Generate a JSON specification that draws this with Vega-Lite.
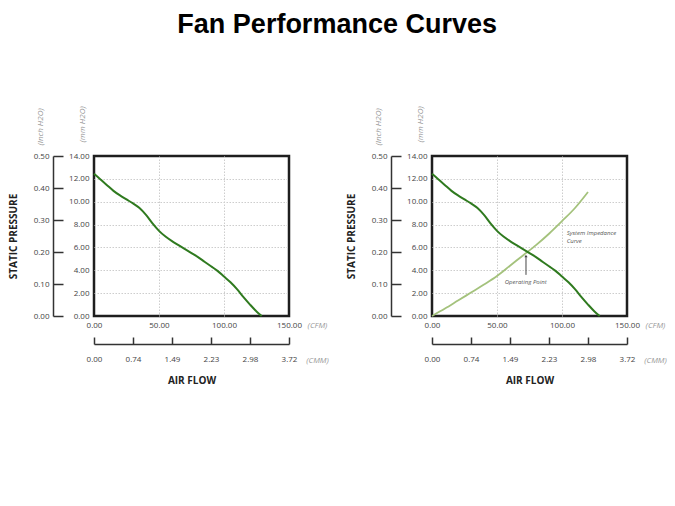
{
  "$schema": "https://vega.github.io/schema/vega-lite/v6.json",
  "padding": {"left": 6, "top": 10, "right": 5, "bottom": 5},
  "title": {"text": "Fan Performance Curves", "font": "Liberation Sans", "fontSize": 27, "fontWeight": "bold", "color": "#000", "anchor": "middle", "offset": 66},
  "config": {
    "font": "Open Sans",
    "view": {"stroke": "#1e1e1e", "strokeWidth": 2.5},
    "axis": {"labelFont": "Open Sans", "titleFont": "Open Sans", "labelFontSize": 8, "labelColor": "#444", "labelFlush": false, "labelOverlap": false}
  },
  "datasets": {
    "fan": [
      {"cfm": 0, "mm": 12.45}, {"cfm": 5, "mm": 11.95}, {"cfm": 10, "mm": 11.45}, {"cfm": 15, "mm": 10.95},
      {"cfm": 20, "mm": 10.55}, {"cfm": 25, "mm": 10.2}, {"cfm": 30, "mm": 9.85}, {"cfm": 35, "mm": 9.45},
      {"cfm": 40, "mm": 8.85}, {"cfm": 45, "mm": 8.1}, {"cfm": 50, "mm": 7.45}, {"cfm": 55, "mm": 6.95},
      {"cfm": 60, "mm": 6.55}, {"cfm": 65, "mm": 6.2}, {"cfm": 70, "mm": 5.85}, {"cfm": 75, "mm": 5.5},
      {"cfm": 80, "mm": 5.15}, {"cfm": 85, "mm": 4.75}, {"cfm": 90, "mm": 4.35}, {"cfm": 95, "mm": 3.95},
      {"cfm": 100, "mm": 3.45}, {"cfm": 105, "mm": 2.95}, {"cfm": 110, "mm": 2.35}, {"cfm": 115, "mm": 1.65},
      {"cfm": 120, "mm": 1.0}, {"cfm": 125, "mm": 0.4}, {"cfm": 129, "mm": 0}
    ],
    "imp": [
      {"cfm": 0, "mm": 0}, {"cfm": 10, "mm": 0.65}, {"cfm": 20, "mm": 1.35}, {"cfm": 30, "mm": 2.05},
      {"cfm": 40, "mm": 2.75}, {"cfm": 50, "mm": 3.5}, {"cfm": 60, "mm": 4.4}, {"cfm": 70, "mm": 5.3},
      {"cfm": 80, "mm": 6.2}, {"cfm": 90, "mm": 7.2}, {"cfm": 100, "mm": 8.3}, {"cfm": 110, "mm": 9.45},
      {"cfm": 120, "mm": 10.85}
    ],
    "notesLeft": [
      {"cfm": 103.6, "mm": 7.23, "label": "System Impedance"},
      {"cfm": 103.6, "mm": 6.59, "label": "Curve"}
    ],
    "notesCenter": [
      {"cfm": 72.1, "mm": 3.0, "label": "Operating Point"}
    ],
    "arrow": [{"cfm": 72.3, "mm": 3.6, "mm2": 5.25}],
    "axes": [{"cmm": 0, "inch": 0}, {"cmm": 3.72, "inch": 0.5}]
  },
  "spacing": 14,
  "hconcat": [
    {
      "width": 195, "height": 160,
      "resolve": {"scale": {"x": "independent", "y": "independent"}, "axis": {"x": "independent", "y": "independent"}},
      "layer": [
        {
          "encoding": {
            "x": {"field": "cfm", "type": "quantitative", "scale": {"domain": [0, 150], "nice": false, "zero": false},
              "axis": {"orient": "bottom", "values": [0, 50, 100, 150], "format": ".2f", "ticks": false, "domain": false, "grid": true, "gridColor": "#cdcdcd", "gridDash": [1.5, 1.5], "gridOpacity": {"condition": {"test": "datum.value === 0 || datum.value === 150", "value": 0}, "value": 1}, "labelPadding": 5,
                "title": "(CFM)", "titleX": 223, "titleY": 9, "titleAlign": "center", "titleBaseline": "middle", "titleFontStyle": "italic", "titleFontWeight": "normal", "titleColor": "#999", "titleFontSize": 8}},
            "y": {"field": "mm", "type": "quantitative", "scale": {"domain": [0, 14], "nice": false, "zero": false},
              "axis": {"orient": "left", "values": [0, 2, 4, 6, 8, 10, 12, 14], "format": ".2f", "ticks": false, "domain": false, "grid": true, "gridColor": "#cdcdcd", "gridDash": [1.5, 1.5], "gridOpacity": {"condition": {"test": "datum.value === 0 || datum.value === 14", "value": 0}, "value": 1}, "labelPadding": 5,
                "title": "(mm H2O)", "titleX": -12, "titleY": -14, "titleAngle": -90, "titleAlign": "left", "titleBaseline": "middle", "titleFontStyle": "italic", "titleFontWeight": "normal", "titleColor": "#999", "titleFontSize": 8}}
          },
          "layer": [
            {"data": {"name": "fan"}, "mark": {"type": "line", "color": "#2f7a1f", "strokeWidth": 2, "interpolate": "monotone"}}
          ]
        },
        {
          "data": {"name": "axes"},
          "mark": {"type": "point", "opacity": 0},
          "encoding": {
            "x": {"field": "cmm", "type": "quantitative", "scale": {"domain": [0, 3.72], "nice": false, "zero": false},
              "axis": {"orient": "bottom", "offset": 28, "values": [0, 0.744, 1.488, 2.232, 2.976, 3.72], "format": ".2f", "grid": false, "domain": true, "domainColor": "#333", "domainWidth": 1.5, "ticks": true, "tickSize": -7, "tickColor": "#333", "tickWidth": 1.5, "labelPadding": 18,
                "title": "(CMM)", "titleX": 223, "titleY": 16, "titleAlign": "center", "titleBaseline": "middle", "titleFontStyle": "italic", "titleFontWeight": "normal", "titleColor": "#999", "titleFontSize": 8}},
            "y": {"field": "inch", "type": "quantitative", "scale": {"domain": [0, 0.5], "nice": false, "zero": false},
              "axis": {"orient": "left", "offset": 41, "values": [0, 0.1, 0.2, 0.3, 0.4, 0.5], "format": ".2f", "grid": false, "domain": true, "domainColor": "#333", "domainWidth": 1.5, "ticks": true, "tickSize": -10, "tickColor": "#333", "tickWidth": 1.5, "labelPadding": 14,
                "title": "(Inch H2O)", "titleX": -13, "titleY": -11, "titleAngle": -90, "titleAlign": "left", "titleBaseline": "middle", "titleFontStyle": "italic", "titleFontWeight": "normal", "titleColor": "#999", "titleFontSize": 8}}
          }
        },
        {
          "data": {"name": "axes"},
          "mark": {"type": "point", "opacity": 0},
          "encoding": {
            "x": {"field": "cmm", "type": "quantitative", "scale": {"domain": [0, 3.72], "nice": false, "zero": false},
              "axis": {"orient": "bottom", "domain": false, "ticks": false, "labels": false, "grid": false, "title": "AIR FLOW", "titleX": 97.5, "titleY": 64, "titleAlign": "center", "titleBaseline": "middle", "titleFontWeight": "bold", "titleFontSize": 10, "titleColor": "#222"}},
            "y": {"field": "inch", "type": "quantitative", "scale": {"domain": [0, 0.5], "nice": false, "zero": false},
              "axis": {"orient": "left", "domain": false, "ticks": false, "labels": false, "grid": false, "title": "STATIC PRESSURE", "titleX": -81, "titleY": 80, "titleAngle": -90, "titleAlign": "center", "titleBaseline": "middle", "titleFontWeight": "bold", "titleFontSize": 10, "titleColor": "#222"}}
          }
        }
      ]
    },
    {
      "width": 195, "height": 160,
      "resolve": {"scale": {"x": "independent", "y": "independent"}, "axis": {"x": "independent", "y": "independent"}},
      "layer": [
        {
          "encoding": {
            "x": {"field": "cfm", "type": "quantitative", "scale": {"domain": [0, 150], "nice": false, "zero": false},
              "axis": {"orient": "bottom", "values": [0, 50, 100, 150], "format": ".2f", "ticks": false, "domain": false, "grid": true, "gridColor": "#cdcdcd", "gridDash": [1.5, 1.5], "gridOpacity": {"condition": {"test": "datum.value === 0 || datum.value === 150", "value": 0}, "value": 1}, "labelPadding": 5,
                "title": "(CFM)", "titleX": 223, "titleY": 9, "titleAlign": "center", "titleBaseline": "middle", "titleFontStyle": "italic", "titleFontWeight": "normal", "titleColor": "#999", "titleFontSize": 8}},
            "y": {"field": "mm", "type": "quantitative", "scale": {"domain": [0, 14], "nice": false, "zero": false},
              "axis": {"orient": "left", "values": [0, 2, 4, 6, 8, 10, 12, 14], "format": ".2f", "ticks": false, "domain": false, "grid": true, "gridColor": "#cdcdcd", "gridDash": [1.5, 1.5], "gridOpacity": {"condition": {"test": "datum.value === 0 || datum.value === 14", "value": 0}, "value": 1}, "labelPadding": 5,
                "title": "(mm H2O)", "titleX": -12, "titleY": -14, "titleAngle": -90, "titleAlign": "left", "titleBaseline": "middle", "titleFontStyle": "italic", "titleFontWeight": "normal", "titleColor": "#999", "titleFontSize": 8}}
          },
          "layer": [
            {"data": {"name": "imp"}, "mark": {"type": "line", "color": "#a4c27c", "strokeWidth": 1.8, "interpolate": "monotone"}},
            {"data": {"name": "fan"}, "mark": {"type": "line", "color": "#2f7a1f", "strokeWidth": 2, "interpolate": "monotone"}},
            {"data": {"name": "arrow"}, "mark": {"type": "rule", "color": "#444", "strokeWidth": 1}, "encoding": {"y2": {"field": "mm2"}}},
            {"data": {"name": "arrow"}, "mark": {"type": "point", "shape": "triangle-up", "filled": true, "color": "#444", "size": 10, "opacity": 1}, "encoding": {"y": {"field": "mm2", "type": "quantitative"}}},
            {"data": {"name": "notesLeft"}, "mark": {"type": "text", "fontSize": 6, "fontStyle": "italic", "color": "#555", "baseline": "middle", "align": "left"}, "encoding": {"text": {"field": "label"}}},
            {"data": {"name": "notesCenter"}, "mark": {"type": "text", "fontSize": 6, "fontStyle": "italic", "color": "#555", "baseline": "middle", "align": "center"}, "encoding": {"text": {"field": "label"}}}
          ]
        },
        {
          "data": {"name": "axes"},
          "mark": {"type": "point", "opacity": 0},
          "encoding": {
            "x": {"field": "cmm", "type": "quantitative", "scale": {"domain": [0, 3.72], "nice": false, "zero": false},
              "axis": {"orient": "bottom", "offset": 28, "values": [0, 0.744, 1.488, 2.232, 2.976, 3.72], "format": ".2f", "grid": false, "domain": true, "domainColor": "#333", "domainWidth": 1.5, "ticks": true, "tickSize": -7, "tickColor": "#333", "tickWidth": 1.5, "labelPadding": 18,
                "title": "(CMM)", "titleX": 223, "titleY": 16, "titleAlign": "center", "titleBaseline": "middle", "titleFontStyle": "italic", "titleFontWeight": "normal", "titleColor": "#999", "titleFontSize": 8}},
            "y": {"field": "inch", "type": "quantitative", "scale": {"domain": [0, 0.5], "nice": false, "zero": false},
              "axis": {"orient": "left", "offset": 41, "values": [0, 0.1, 0.2, 0.3, 0.4, 0.5], "format": ".2f", "grid": false, "domain": true, "domainColor": "#333", "domainWidth": 1.5, "ticks": true, "tickSize": -10, "tickColor": "#333", "tickWidth": 1.5, "labelPadding": 14,
                "title": "(Inch H2O)", "titleX": -13, "titleY": -11, "titleAngle": -90, "titleAlign": "left", "titleBaseline": "middle", "titleFontStyle": "italic", "titleFontWeight": "normal", "titleColor": "#999", "titleFontSize": 8}}
          }
        },
        {
          "data": {"name": "axes"},
          "mark": {"type": "point", "opacity": 0},
          "encoding": {
            "x": {"field": "cmm", "type": "quantitative", "scale": {"domain": [0, 3.72], "nice": false, "zero": false},
              "axis": {"orient": "bottom", "domain": false, "ticks": false, "labels": false, "grid": false, "title": "AIR FLOW", "titleX": 97.5, "titleY": 64, "titleAlign": "center", "titleBaseline": "middle", "titleFontWeight": "bold", "titleFontSize": 10, "titleColor": "#222"}},
            "y": {"field": "inch", "type": "quantitative", "scale": {"domain": [0, 0.5], "nice": false, "zero": false},
              "axis": {"orient": "left", "domain": false, "ticks": false, "labels": false, "grid": false, "title": "STATIC PRESSURE", "titleX": -81, "titleY": 80, "titleAngle": -90, "titleAlign": "center", "titleBaseline": "middle", "titleFontWeight": "bold", "titleFontSize": 10, "titleColor": "#222"}}
          }
        }
      ]
    }
  ]
}
